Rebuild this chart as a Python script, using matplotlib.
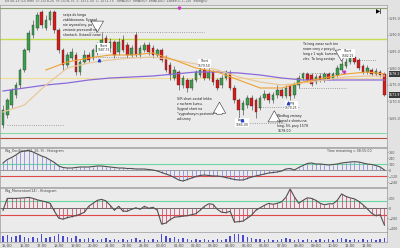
import matplotlib
matplotlib.use("Agg")
import matplotlib.pyplot as plt
import numpy as np

# --- price candles (15 min) ---
opens = [1562.9, 1565.9, 1568.9, 1571.9, 1574.9, 1579.4, 1585.4, 1589.9, 1592.0, 1596.8,
         1592.0, 1594.4, 1596.8, 1591.4, 1585.4, 1580.9, 1583.0, 1583.9, 1578.8, 1581.8,
         1583.9, 1583.0, 1584.8, 1586.0, 1589.0, 1586.0, 1587.8, 1584.8, 1588.4, 1586.9,
         1583.9, 1589.9, 1583.9, 1585.4, 1586.9, 1586.0, 1583.9, 1585.4, 1583.0, 1580.9,
         1577.0, 1578.8, 1574.9, 1576.4, 1574.0, 1576.4, 1577.9, 1579.4, 1577.0, 1578.8,
         1576.4, 1574.9, 1577.0, 1578.5, 1574.0, 1570.4, 1567.4, 1568.9, 1571.0, 1570.4,
         1568.0, 1571.0, 1572.2, 1570.4, 1571.9, 1573.4, 1571.6, 1574.6, 1571.9, 1574.9,
         1577.0, 1578.2, 1577.9, 1575.8, 1577.6, 1576.4, 1578.2, 1576.7, 1577.9, 1579.4,
         1580.6, 1581.8, 1583.3, 1582.4, 1580.6, 1578.8, 1579.4, 1578.2, 1578.8, 1578.2]
closes = [1567.4, 1570.4, 1573.4, 1574.9, 1579.4, 1585.4, 1590.5, 1592.9, 1595.9, 1592.9,
          1594.4, 1596.8, 1591.4, 1585.4, 1580.9, 1583.9, 1584.8, 1578.8, 1581.8, 1583.9,
          1582.4, 1585.4, 1586.9, 1588.4, 1586.0, 1587.8, 1583.9, 1587.8, 1585.4, 1583.9,
          1586.0, 1583.9, 1586.0, 1586.9, 1584.8, 1583.9, 1585.4, 1582.4, 1579.4, 1577.9,
          1579.4, 1574.9, 1577.0, 1574.0, 1576.4, 1578.8, 1579.4, 1577.0, 1578.8, 1575.8,
          1574.0, 1577.0, 1578.8, 1574.0, 1570.4, 1567.4, 1569.5, 1571.0, 1568.6, 1566.8,
          1571.0, 1572.2, 1570.4, 1571.9, 1573.4, 1571.6, 1574.0, 1571.6, 1574.9, 1577.0,
          1578.2, 1576.4, 1575.2, 1577.3, 1576.4, 1578.2, 1576.7, 1578.2, 1580.0, 1581.2,
          1581.8, 1583.3, 1581.8, 1580.0, 1578.8, 1580.0, 1578.2, 1579.1, 1577.9, 1571.9]
highs = [1568.9, 1571.0, 1574.0, 1575.8, 1580.0, 1586.0, 1591.4, 1594.4, 1596.8, 1597.4,
         1595.9, 1597.4, 1597.4, 1592.0, 1586.0, 1584.8, 1586.0, 1584.8, 1582.4, 1585.4,
         1584.8, 1586.0, 1587.8, 1590.8, 1589.9, 1589.0, 1588.4, 1589.0, 1589.9, 1587.8,
         1586.9, 1590.8, 1586.9, 1587.8, 1587.8, 1586.9, 1586.0, 1586.0, 1583.9, 1581.8,
         1580.6, 1579.4, 1577.9, 1577.0, 1577.0, 1579.4, 1580.9, 1580.6, 1580.0, 1579.4,
         1577.0, 1577.9, 1579.4, 1579.4, 1574.9, 1571.0, 1570.4, 1571.9, 1571.9, 1571.0,
         1571.9, 1573.4, 1572.8, 1572.8, 1574.9, 1574.0, 1574.9, 1575.2, 1575.8, 1577.9,
         1578.8, 1578.8, 1578.5, 1578.2, 1578.5, 1578.8, 1578.8, 1578.8, 1580.9, 1582.4,
         1583.0, 1584.5, 1584.5, 1583.0, 1581.2, 1580.9, 1580.0, 1580.0, 1579.4, 1578.8]
lows = [1562.0, 1565.0, 1568.0, 1571.0, 1574.0, 1578.8, 1584.8, 1589.0, 1591.4, 1592.0,
        1591.4, 1592.9, 1590.5, 1584.5, 1579.4, 1580.0, 1582.4, 1577.9, 1577.9, 1581.2,
        1581.8, 1582.4, 1583.9, 1585.4, 1585.4, 1584.8, 1583.0, 1583.9, 1584.8, 1583.0,
        1583.3, 1583.3, 1583.0, 1584.8, 1583.9, 1583.0, 1583.3, 1581.8, 1578.8, 1576.4,
        1576.4, 1573.4, 1574.0, 1572.8, 1573.4, 1575.8, 1577.3, 1576.4, 1576.4, 1574.9,
        1573.4, 1574.0, 1576.4, 1573.4, 1569.5, 1565.0, 1565.9, 1568.0, 1567.4, 1565.0,
        1567.4, 1570.4, 1569.5, 1569.5, 1571.0, 1571.0, 1571.0, 1570.4, 1571.0, 1574.0,
        1576.4, 1575.8, 1574.6, 1575.2, 1575.8, 1575.8, 1576.4, 1576.4, 1577.3, 1578.8,
        1580.0, 1581.2, 1581.2, 1579.4, 1578.2, 1578.2, 1577.6, 1577.6, 1577.3, 1571.6]

# moving averages, read every 5 bars
ma_idx = [0, 5, 10, 15, 20, 25, 30, 35, 40, 45, 50, 55, 60, 65, 70, 75, 80, 85, 89]
ma_purple = [1573.1, 1574.0, 1574.9, 1575.5, 1576.4, 1577.0, 1577.3, 1577.6, 1578.2, 1578.8,
             1578.8, 1578.5, 1577.9, 1577.0, 1576.4, 1576.4, 1576.4, 1576.4, 1576.4]
ma_tan = [1566.8, 1568.9, 1574.9, 1580.0, 1581.5, 1582.4, 1583.0, 1583.3, 1582.4, 1581.2,
          1579.4, 1577.3, 1575.8, 1574.9, 1575.5, 1576.4, 1577.3, 1577.6, 1577.6]
ma_orange = [None, None, 1579.4, 1581.8, 1583.0, 1583.9, 1583.9, 1584.5, 1582.4, 1580.0,
             1578.8, 1576.4, 1574.0, 1574.0, 1575.8, 1577.0, 1578.2, 1578.8, 1578.2]

# oscillators
osc1 = [140, 210, 250, 300, 360, 380, 390, 360, 320, 280, 250, 200, 150, 80, 50, 40, 40, 50, 60, 60,
        60, 70, 80, 80, 70, 60, 50, 40, 40, 30, 30, 20, 20, 20, 10, 0, -20, -50, -80, -110,
        -150, -200, -220, -190, -160, -130, -110, -100, -110, -120, -120, -130, -150, -170, -190, -200, -200, -170, -140, -120,
        -100, -80, -60, -50, -40, -20, 20, 30, 0, 50, 90, 130, 140, 120, 120, 110, 100, 110, 120, 140,
        150, 160, 166, 160, 140, 120, 110, 90, 60, 0]
osc2 = [-40, 200, 200, 200, 205, 210, 220, 200, 170, 150, 130, 100, -60, -200, -220, -190, -170, -150, -120, -80,
        40, 100, 160, 180, 150, 60, -40, 40, -60, -60, -20, 10, -20, 40, 0, 20, -40, -320, -300, -230,
        -180, -170, -160, -150, -130, -110, -40, 40, 90, 80, -20, -80, -90, -60, -280, -270, -260, -200, -140, -40,
        10, 60, 100, 80, 100, 130, 220, 390, 230, 100, 160, 210, 200, 160, 100, 70, 90, 90, 160, 290,
        240, 210, 190, 140, 70, -10, -100, -150, -130, -340]
volume = [6, 7, 5, 6, 7, 5, 4, 5, 4, 8, 4, 5, 6, 8, 6, 5, 4, 6, 3, 3,
          4, 3, 2, 3, 4, 2, 3, 2, 3, 2, 3, 4, 2, 3, 2, 3, 2, 8, 6, 4,
          5, 3, 4, 3, 2, 3, 2, 3, 2, 2, 3, 2, 3, 6, 8, 8, 7, 5, 4, 3,
          3, 2, 3, 2, 2, 3, 4, 3, 2, 3, 2, 3, 2, 2, 3, 2, 3, 2, 3, 4,
          3, 2, 3, 2, 3, 2, 3, 2, 3, 4]

time_ticks = list(range(1, 86, 4))
time_labels = ["%02d:00" % ((15 + k) % 24) for k in range(len(time_ticks))]

price_ticks = [1565, 1570, 1575, 1580, 1585, 1590, 1595]
osc1_ticks = [-240, -120, 0, 120, 240, 360]
osc2_ticks = [-400, -200, 0, 200]

BG = "#ebebeb"
n = len(opens)
idx = np.arange(n)
XL = (-0.7, 89.6)

fig = plt.figure(figsize=(4, 2.48), dpi=100, facecolor="#e2e2e2")
W, H = 400.0, 248.0

def panel(top, bottom):
    return fig.add_axes([0, 1 - bottom / H, 387 / W, (bottom - top) / H], facecolor=BG)

ax = panel(5, 147)
ax1 = panel(148, 187)
ax2 = panel(188, 232)
axv = panel(232, 242)

for a in (ax, ax1, ax2, axv):
    a.set_xlim(*XL)
    a.yaxis.tick_right()
    a.tick_params(axis="y", labelsize=2.4, colors="#555555", length=1, pad=0.5, width=0.4)
    a.tick_params(axis="x", bottom=False, labelbottom=False)
    for s in a.spines.values():
        s.set_color("#9a9a9a")
        s.set_linewidth(0.5)

# --- price panel ---
ax.set_ylim(1556.3, 1598.9)
ax.set_yticks(price_ticks)
ax.set_yticklabels(["%.1f" % p for p in price_ticks])

ax.axhline(1598.0, color="#8fa070", lw=0.8)
ax.axhline(1588.7, color="#c8dc50", lw=1.0)
ax.axhline(1577.0, color="#f2dc9a", lw=0.8)
ax.axhline(1560.5, color="#7fd8a0", lw=0.7)
ax.axhline(1559.0, color="#b84a3a", lw=0.8)

ax.hlines([1562.9], 1, 14, colors="#888888", linestyles=":", lw=0.6)
ax.hlines([1590.8, 1583.3], 20, 38, colors="#888888", linestyles=":", lw=0.6)
ax.hlines([1590.8], 38, 47, colors="#888888", linestyles=":", lw=0.6)
ax.hlines([1578.5, 1574.0], 69, 80, colors="#888888", linestyles=":", lw=0.6)
ax.hlines([1582.4], 80, 87, colors="#888888", linestyles=":", lw=0.6)
ax.hlines([1568.3], 59, 69, colors="#888888", linestyles=":", lw=0.6)
ax.hlines([1563.5], 55, 66, colors="#888888", linestyles=":", lw=0.6)

up = np.array(closes) >= np.array(opens)
colors = np.where(up, "#3aa04c", "#d91a1a")
ax.vlines(idx, lows, highs, colors="#333333", lw=0.4, zorder=2)
bottoms = np.minimum(opens, closes)
heights = np.maximum(np.abs(np.array(closes) - np.array(opens)), 0.2)
ax.bar(idx, heights, bottom=bottoms, width=0.62, color=colors,
       edgecolor="#2a2a2a", linewidth=0.25, zorder=3)

ax.plot(ma_idx, ma_purple, color="#8a6ad8", lw=0.9, zorder=4)
ax.plot(ma_idx, ma_tan, color="#e8c89a", lw=0.9, zorder=4)
ax.plot(ma_idx[2:], ma_orange[2:], color="#f0a030", lw=0.8, zorder=4)

note_kw = dict(fontsize=2.3, color="#222222", va="top", ha="left", linespacing=1.3, zorder=6)
ax.text(14, 1596.5, "sesja do longa\nzablokowana. Sygnał\nnie wyzwolony, po\nzmianie przeszedł na\nshortach. Ustawić nowe", **note_kw)
ax.text(40.5, 1571.3, "S/R short został lekko\nz ruchem kursu.\nSygnał short na\n\"sygnałowym poziomie\"\nzaliczony", **note_kw)
ax.text(70, 1587.8, "Ta long zaraz ruch ten\nnowe ceny z pozycji\nlong z 1 wyb. kursem\nzlec. Ta long zostaje", **note_kw)
ax.text(64, 1566.2, "Według zmiany\nsygnał z shortu na\nlong, S/L przy 1578\n1578.00", **note_kw)

lab_kw = dict(fontsize=2.2, color="#222222", ha="center", zorder=6,
              bbox=dict(boxstyle="square,pad=0.15", fc="white", ec="none"))
ax.text(23.5, 1587.3, "Short\n1587.75", va="top", **lab_kw)
ax.text(47, 1580.0, "Short\n1579.50", va="bottom", **lab_kw)
ax.text(80.5, 1583.0, "Short\n1582.25", va="bottom", **lab_kw)
ax.text(55.7, 1562.3, "Long\n1565.00", va="bottom", **lab_kw)
ax.text(67.3, 1567.5, "Long\n1570.25", va="bottom", **lab_kw)

arrow_kw = dict(arrowstyle="simple,head_width=0.9,head_length=0.8,tail_width=0.4",
                fc="white", ec="#333333", lw=0.4)
ax.annotate("", xy=(22, 1589.9), xytext=(22, 1594.0), arrowprops=arrow_kw, zorder=5)
ax.annotate("", xy=(79, 1581.2), xytext=(79, 1586.3), arrowprops=arrow_kw, zorder=5)
ax.annotate("", xy=(50.5, 1570.6), xytext=(50.5, 1565.3), arrowprops=arrow_kw, zorder=5)
ax.annotate("", xy=(63.3, 1568.0), xytext=(63.3, 1563.2), arrowprops=arrow_kw, zorder=5)

ax.plot([55.7, 66.5, 22.3], [1564.3, 1569.6, 1582.4], "^", color="#2040d0", ms=1.8, zorder=6)
ax.plot([41, 79.5], [1598.0, 1578.8], "v", color="#d030d0", ms=1.8, zorder=6)

ax.text(0.5, 1599.6, "ES 06-13 (15 Min)  O: 1578.25  H: 1578.75  L: 1571.50  C: 1571.75   "
        "SMA(20)  SMA(50)  EMA(100)  Zones(3, 1, 20)  Swing(5)", fontsize=2.3,
        color="#555555", va="bottom", ha="left", clip_on=False)
ax.text(88.5, 1597.8, "▶|", fontsize=4, color="black", ha="right", va="top", fontweight="bold")

ax.text(n + 0.1, closes[-1], "%.1f" % closes[-1], fontsize=2.3, color="white", va="center",
        ha="left", clip_on=False, zorder=7,
        bbox=dict(boxstyle="square,pad=0.2", fc="#3a3a3a", ec="none"))
ax.text(n + 0.1, 1578.2, "1578.2", fontsize=2.3, color="white", va="center",
        ha="left", clip_on=False, zorder=7,
        bbox=dict(boxstyle="square,pad=0.2", fc="#3a3a3a", ec="none"))

# --- oscillator 1 ---
ax1.set_ylim(-340, 440)
ax1.set_yticks(osc1_ticks)
ax1.axhline(120, color="#66d9a0", lw=0.8)
ax1.axhline(-120, color="#e04848", lw=0.8)
ax1.axhline(0, color="#777777", lw=0.5)
ax1.vlines(idx, 0, osc1, colors="#8c8ce0", lw=0.6)
ax1.plot(idx, osc1, color="#505050", lw=0.8)
ax1.text(0.5, 420, "Wg_Oscillator(12, 26, 9) - Histogram", fontsize=2.3, color="#444444", va="top")
ax1.text(86, 420, "Time remaining = 08:55:00", fontsize=2.3, color="#444444", va="top", ha="right")

# --- oscillator 2 ---
ax2.set_ylim(-480, 410)
ax2.set_yticks(osc2_ticks)
ax2.axhline(140, color="#66d9a0", lw=0.8)
ax2.axhline(-140, color="#e04848", lw=0.8)
ax2.axhline(0, color="#555555", lw=0.6)
ax2.vlines(idx, 0, osc2, colors="#d05070", lw=0.6)
ax2.plot(idx, osc2, color="#505050", lw=0.8)
ax2.text(0.5, 395, "Wg_Momentum(14) - Histogram", fontsize=2.3, color="#444444", va="top")

# --- volume ---
axv.set_ylim(0, 10)
axv.set_yticks([])
axv.bar(idx, volume, width=0.35, color="#4a4ad0")
axv.set_xticks(time_ticks)
axv.set_xticklabels(time_labels)
axv.tick_params(axis="x", bottom=True, labelbottom=True, labelsize=2.6, colors="#444444",
                length=1, pad=0.5, width=0.4)

fig.savefig("out.png", dpi=100, facecolor=fig.get_facecolor())
